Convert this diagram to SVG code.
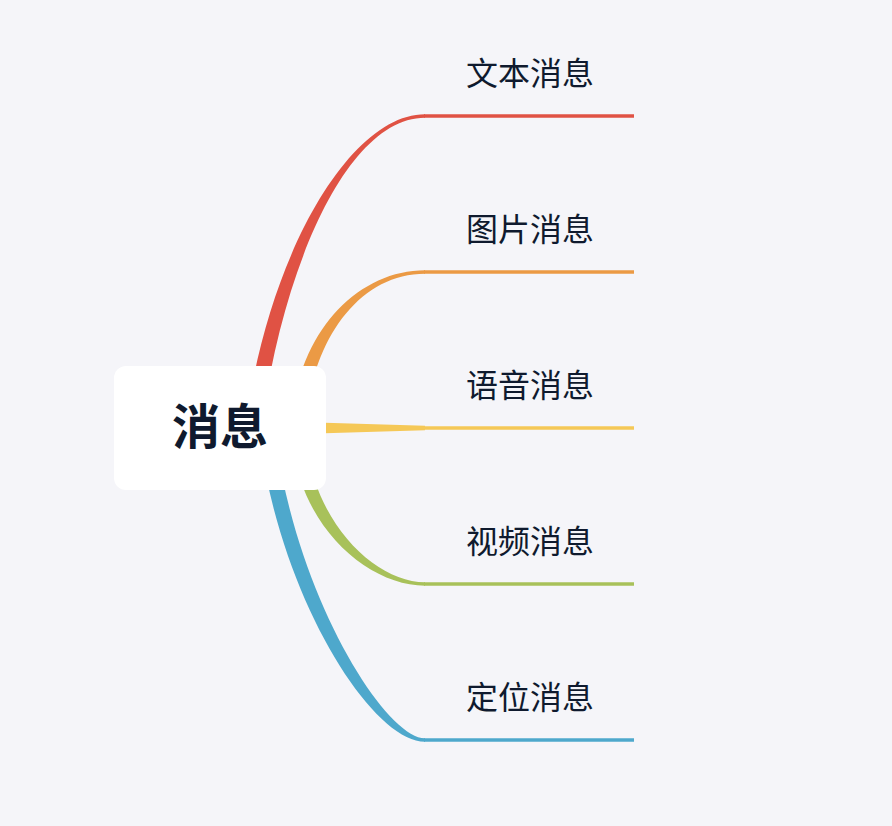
<svg xmlns="http://www.w3.org/2000/svg" width="892" height="826" viewBox="0 0 892 826">
<style>
.lbl{font-family:"Noto Sans CJK SC","Noto Sans",sans-serif;font-size:32px;font-weight:400;fill:#0f1a2e;text-anchor:middle}
.root{font-family:"Noto Sans CJK SC","Noto Sans",sans-serif;font-size:48px;font-weight:700;fill:#0f1a2e;text-anchor:middle}
.ln{fill:none;stroke-width:3.5}
</style>
<rect width="892" height="826" fill="#f5f5f9"/>
<g id="connectors">
  <path d="M247 416 C270 254 350 114.3 425 114.3 L425 117.7 C350 117.7 286 258 263 416 Z" fill="#e05244"/>
  <path class="ln" d="M424 116 H634" stroke="#e05244"/>
  <path d="M293 410 C303 328 360 270.3 425 270.3 L425 273.7 C362 273.7 317 334 307 410 Z" fill="#eb9a45"/>
  <path class="ln" d="M424 272 H634" stroke="#eb9a45"/>
  <path d="M300 422 L425 425.8 L425 430.2 L300 434 Z" fill="#f5c857"/>
  <path class="ln" d="M424 428 H634" stroke="#f5c857"/>
  <path d="M293 446 C303 530 370 585.7 425 585.7 L425 582.3 C377 582.3 317 526 307 446 Z" fill="#a8c15a"/>
  <path class="ln" d="M424 584 H634" stroke="#a8c15a"/>
  <path d="M260 440 C282 600 372 741.7 425 741.7 L425 738.3 C386 738.3 298 600 276 440 Z" fill="#4ea8cc"/>
  <path class="ln" d="M424 740 H634" stroke="#4ea8cc"/>
</g>
<g id="root">
  <rect x="114" y="366" width="212" height="124" rx="12" fill="#ffffff"/>
  <text class="root" x="220" y="444">消息</text>
</g>
<g id="n1"><text class="lbl" x="530" y="85">文本消息</text></g>
<g id="n2"><text class="lbl" x="530" y="241">图片消息</text></g>
<g id="n3"><text class="lbl" x="530" y="397">语音消息</text></g>
<g id="n4"><text class="lbl" x="530" y="553">视频消息</text></g>
<g id="n5"><text class="lbl" x="530" y="709">定位消息</text></g>
</svg>
